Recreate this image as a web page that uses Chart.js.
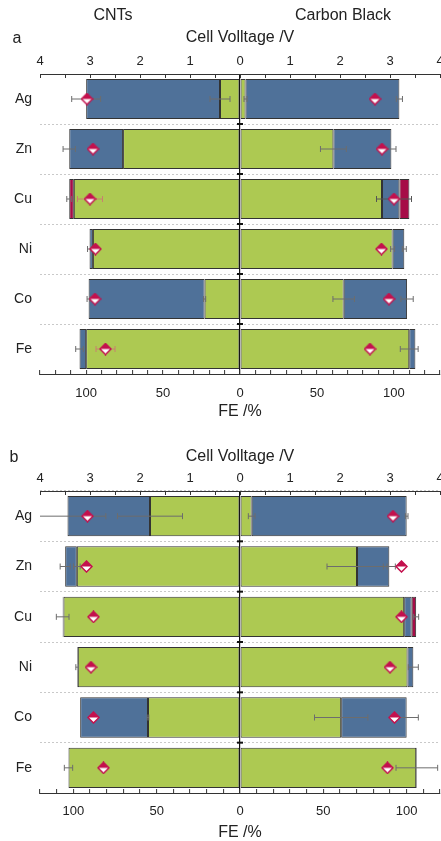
<!DOCTYPE html>
<html>
<head>
<meta charset="utf-8">
<title>FE and cell voltage</title>
<script src="https://cdn.jsdelivr.net/npm/chart.js@4.4.1/dist/chart.umd.min.js"></script>
<style>
  html, body { margin: 0; padding: 0; background: #fff; overflow: hidden; }
  body { width: 441px; height: 841px; position: relative; font-family: 'Liberation Sans', Arial, sans-serif; color: #222; }
  .panel { position: absolute; left: 0; width: 460px; }
  .panel canvas { display: block; }
  .lbl { position: absolute; z-index: 2; font-size: 16px; line-height: 16px; transform: translate(-50%, -50%); white-space: nowrap; }
</style>
</head>
<body>
<div class="panel" style="top:0;height:420px"><canvas id="chartA" width="460" height="420"></canvas></div>
<div class="panel" style="top:420px;height:421px"><canvas id="chartB" width="460" height="421"></canvas></div>
<div class="lbl" style="left:113px;top:15px">CNTs</div>
<div class="lbl" style="left:343px;top:15px">Carbon Black</div>
<div class="lbl" style="left:17px;top:38px">a</div>
<div class="lbl" style="left:14px;top:457px">b</div>

<script>
const categories = ['Ag', 'Zn', 'Cu', 'Ni', 'Co', 'Fe'];

// panel a: FE (%) of each product, CNTs (left) and Carbon Black (right)
const cntGreenA = [13, 76, 108, 95.6, 23, 100];
const cntBlueA = [87, 35, null, 2.2, 75.4, 4.3];
const cntRedA = [null, null, 3, null, null, null];
const cbGreenA = [3.6, 60.7, 92.3, 99.2, 67.4, 110];
const cbBlueA = [100, 37.7, 11.3, 7.6, 41.2, 4];
const cbRedA = [null, null, 6.5, null, null, null];
// cell voltage (V)
const cntVoltA = [3.06, 2.94, 3.0, 2.89, 2.9, 2.69];
const cbVoltA = [2.7, 2.84, 3.08, 2.83, 2.98, 2.6];
// error bars
const cntGreenErrA = [6.5, null, null, null, 0.7, null];
const cntTotalErrA = [9.4, 4, 1.6, 1.3, 1, 2.5];
const cbGreenErrA = [1, 8.4, null, 1.3, 7, 5.8];
const cbTotalErrA = [2, 3, null, 1.3, 4, null];
const cntVoltErrA = [null, null, 0.25, null, null, 0.19];
const cbVoltErrA = [null, null, 0.35, null, null, null];

// panel b
const cntGreenB = [54, 97.9, 105.9, 97.3, 55.2, 102.9];
const cntBlueB = [49.5, 7, null, 0.4, 40.7, null];
const cntRedB = [null, null, 0.5, null, null, null];
const cbGreenB = [7, 70.2, 98.5, 100.5, 60.7, 105.7];
const cbBlueB = [93, 19.4, 4.5, 3.5, 39.3, 0.4];
const cbRedB = [null, null, 2.7, null, null, null];
const cntVoltB = [3.05, 3.07, 2.93, 2.98, 2.93, 2.73];
const cbVoltB = [3.06, 3.23, 3.23, 3.0, 3.09, 2.95];
const cntGreenErrB = [19.5, 2, null, null, 0.5, null];
const cntTotalErrB = [23, 3, 3.8, 0.8, null, 2.5];
const cbGreenErrB = [2, 18, null, null, 16, null];
const cbTotalErrB = [0.8, 3.6, 1.5, 3, 7, 12.5];
const cntVoltErrB = [null, null, null, null, null, null];
const cbVoltErrB = [null, null, null, null, null, null];

const GREEN = '#adc952';
const BLUE = '#4f7199';
const MAROON = '#a60c47';
const CRIMSON = '#c3104d';
const EDGE = '#333';
const FONT = "'Liberation Sans', Arial, sans-serif";

function makeDiamond(size) {
    const c = document.createElement('canvas');
    c.width = size;
    c.height = size;
    const g = c.getContext('2d');
    const h = size / 2;
    g.beginPath();
    g.moveTo(h, 1); g.lineTo(size - 1, h); g.lineTo(h, size - 1); g.lineTo(1, h);
    g.closePath();
    g.fillStyle = '#fff';
    g.fill();
    g.lineWidth = 1.5;
    g.strokeStyle = CRIMSON;
    g.stroke();
    g.beginPath();
    g.moveTo(h, 1); g.lineTo(size - 1, h); g.lineTo(1, h);
    g.closePath();
    g.fillStyle = CRIMSON;
    g.fill();
    return c;
}
const diamond = makeDiamond(13);

const sum = (...vals) => vals.reduce((a, v) => a + (v || 0), 0);
const neg = arr => arr.map(v => v == null ? null : -v);

/**
 * Error bars (FE on x, voltage on x2) and the little marks on the zero line
 */
const extrasPlugin = {
    id: 'extras',
    beforeDatasetDraw(chart, args) {
        if (args.meta.type !== 'line') return;
        const items = chart.options.plugins.extras.errors;
        const { ctx, chartArea } = chart;
        const yScale = chart.scales.y;
        ctx.save();
        ctx.beginPath();
        ctx.rect(chartArea.left, chartArea.top, chartArea.width, chartArea.height);
        ctx.clip();
        items.forEach(e => {
            const scale = chart.scales[e.axis];
            const y = yScale.getPixelForValue(e.row);
            const x1 = scale.getPixelForValue(e.value - e.err);
            const x2 = scale.getPixelForValue(e.value + e.err);
            ctx.strokeStyle = e.color;
            ctx.lineWidth = 1;
            ctx.beginPath();
            ctx.moveTo(x1, y); ctx.lineTo(x2, y);
            ctx.moveTo(x1, y - 3); ctx.lineTo(x1, y + 3);
            ctx.moveTo(x2, y - 3); ctx.lineTo(x2, y + 3);
            ctx.stroke();
        });
        ctx.restore();
    },
    afterDatasetsDraw(chart) {
        const { ctx } = chart;
        const yScale = chart.scales.y;
        const x0 = chart.scales.x.getPixelForValue(0);
        ctx.save();
        ctx.strokeStyle = '#111';
        ctx.lineWidth = 2;
        for (let i = 1; i < categories.length; i++) {
            const yb = (yScale.getPixelForValue(i - 1) + yScale.getPixelForValue(i)) / 2;
            ctx.beginPath();
            ctx.moveTo(x0 - 3, yb); ctx.lineTo(x0 + 3, yb);
            ctx.stroke();
        }
        ctx.restore();
    }
};

function buildErrors(d) {
    const out = [];
    const gray = '#6d6d6d';
    categories.forEach((c, i) => {
        const cntTotal = sum(d.cntGreen[i], d.cntBlue[i], d.cntRed[i]);
        const cbTotal = sum(d.cbGreen[i], d.cbBlue[i], d.cbRed[i]);
        if (d.cntGreenErr[i] != null) out.push({ row: i, axis: 'x', value: -d.cntGreen[i], err: d.cntGreenErr[i], color: gray });
        if (d.cntTotalErr[i] != null) out.push({ row: i, axis: 'x', value: -cntTotal, err: d.cntTotalErr[i], color: gray });
        if (d.cbGreenErr[i] != null) out.push({ row: i, axis: 'x', value: d.cbGreen[i], err: d.cbGreenErr[i], color: gray });
        if (d.cbTotalErr[i] != null) out.push({ row: i, axis: 'x', value: cbTotal, err: d.cbTotalErr[i], color: gray });
        if (d.cntVoltErr[i] != null) out.push({ row: i, axis: 'x2', value: -d.cntVolt[i], err: d.cntVoltErr[i], color: '#c8806e' });
        if (d.cbVoltErr[i] != null) out.push({ row: i, axis: 'x2', value: d.cbVolt[i], err: d.cbVoltErr[i], color: '#555' });
    });
    return out;
}

function barSet(label, data, color) {
    return {
        label: label,
        data: data,
        backgroundColor: color,
        borderColor: EDGE,
        borderWidth: 1,
        borderSkipped: false,
        categoryPercentage: 0.8,
        barPercentage: 1,
        xAxisID: 'x',
        yAxisID: 'y'
    };
}

function renderPanel(canvasId, d, lay) {
    const ctx = document.getElementById(canvasId).getContext('2d');
    const points = [];
    categories.forEach((c, i) => {
        points.push({ x: -d.cntVolt[i], y: c });
        points.push({ x: d.cbVolt[i], y: c });
    });

    return new Chart(ctx, {
        type: 'bar',
        data: {
            labels: categories,
            datasets: [
                barSet('CNT main', neg(d.cntGreen), GREEN),
                barSet('CNT H2', neg(d.cntBlue), BLUE),
                barSet('CNT other', neg(d.cntRed), MAROON),
                barSet('CB main', d.cbGreen, GREEN),
                barSet('CB H2', d.cbBlue, BLUE),
                barSet('CB other', d.cbRed, MAROON),
                {
                    type: 'line',
                    label: 'Cell voltage',
                    data: points,
                    indexAxis: 'y',
                    showLine: false,
                    pointStyle: diamond,
                    pointRadius: 6,
                    xAxisID: 'x2',
                    yAxisID: 'y',
                    order: -1
                }
            ]
        },
        options: {
            indexAxis: 'y',
            responsive: false,
            animation: false,
            events: [],
            layout: { padding: { top: lay.padTop, right: 20, bottom: 0, left: 0 } },
            plugins: {
                legend: { display: false },
                tooltip: { enabled: false },
                extras: { errors: buildErrors(d) }
            },
            scales: {
                x: {
                    type: 'linear',
                    position: 'bottom',
                    stacked: true,
                    min: -lay.feMax,
                    max: lay.feMax,
                    afterFit: s => { s.height = lay.bottomH; },
                    ticks: {
                        stepSize: 10,
                        autoSkip: false,
                        maxRotation: 0,
                        padding: lay.bottomPad,
                        color: '#222',
                        font: { family: FONT, size: 13 },
                        callback: v => (v % 50 === 0 ? String(Math.abs(v)) : '')
                    },
                    grid: {
                        drawOnChartArea: true,
                        color: c => (c.tick && c.tick.value === 0 ? '#111' : 'rgba(0,0,0,0)'),
                        lineWidth: 1.2,
                        tickLength: -4,
                        tickColor: EDGE,
                        tickWidth: 1
                    },
                    border: { display: true, color: EDGE, width: 1 },
                    title: {
                        display: true,
                        text: 'FE /%',
                        color: '#222',
                        font: { family: FONT, size: 16, lineHeight: 1 },
                        padding: { top: 0, bottom: 0 }
                    }
                },
                x2: {
                    type: 'linear',
                    position: 'top',
                    min: -4,
                    max: 4,
                    afterFit: s => { s.height = 46; },
                    ticks: {
                        stepSize: 0.5,
                        autoSkip: false,
                        maxRotation: 0,
                        padding: lay.topPad,
                        color: '#222',
                        font: { family: FONT, size: 13 },
                        callback: v => (Number.isInteger(v) ? String(Math.abs(v)) : '')
                    },
                    grid: {
                        drawOnChartArea: false,
                        tickLength: -4,
                        tickColor: EDGE,
                        tickWidth: 1
                    },
                    border: { display: true, color: EDGE, width: 1 },
                    title: {
                        display: true,
                        text: 'Cell Volltage /V',
                        color: '#222',
                        font: { family: FONT, size: 16, lineHeight: 1 },
                        padding: { top: lay.titleTop, bottom: 0 }
                    }
                },
                y: {
                    type: 'category',
                    stacked: true,
                    afterFit: s => { s.width = 40; },
                    ticks: {
                        padding: 8,
                        color: '#222',
                        font: { family: FONT, size: 14 }
                    },
                    grid: {
                        offset: true,
                        drawTicks: false,
                        color: '#c9c9c9',
                        lineWidth: 1
                    },
                    border: { display: false, dash: [2, 2] }
                }
            }
        },
        plugins: [extrasPlugin]
    });
}

renderPanel('chartA', {
    cntGreen: cntGreenA, cntBlue: cntBlueA, cntRed: cntRedA,
    cbGreen: cbGreenA, cbBlue: cbBlueA, cbRed: cbRedA,
    cntVolt: cntVoltA, cbVolt: cbVoltA,
    cntGreenErr: cntGreenErrA, cntTotalErr: cntTotalErrA,
    cbGreenErr: cbGreenErrA, cbTotalErr: cbTotalErrA,
    cntVoltErr: cntVoltErrA, cbVoltErr: cbVoltErrA
}, { padTop: 28, titleTop: 2, topPad: 9, bottomH: 46, bottomPad: 16, feMax: 130 });

renderPanel('chartB', {
    cntGreen: cntGreenB, cntBlue: cntBlueB, cntRed: cntRedB,
    cbGreen: cbGreenB, cbBlue: cbBlueB, cbRed: cbRedB,
    cntVolt: cntVoltB, cbVolt: cbVoltB,
    cntGreenErr: cntGreenErrB, cntTotalErr: cntTotalErrB,
    cbGreenErr: cbGreenErrB, cbTotalErr: cbTotalErrB,
    cntVoltErr: cntVoltErrB, cbVoltErr: cbVoltErrB
}, { padTop: 25, titleTop: 4, topPad: 9, bottomH: 48, bottomPad: 15, feMax: 120 });
</script>
</body>
</html>
